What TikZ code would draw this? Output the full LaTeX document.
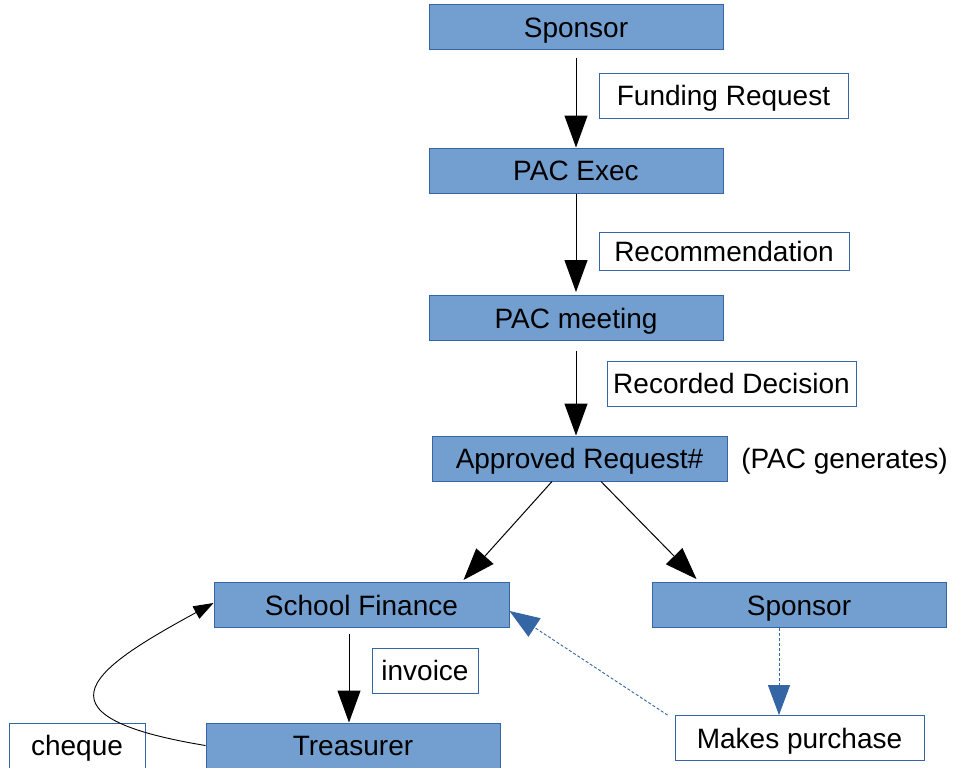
\documentclass[tikz,border=0pt]{standalone}
\usepackage{fontspec}
\setmainfont{Liberation Sans}
\usetikzlibrary{arrows.meta,calc}
\definecolor{boxfill}{HTML}{729FCF}
\definecolor{boxline}{HTML}{3465A4}
\tikzset{
  txt/.style={font=\fontsize{28}{32}\selectfont, text height=26pt, text depth=6pt},
  bluebox/.style={txt, draw=boxline, fill=boxfill, line width=1pt, inner sep=0pt,
    minimum width=294pt, minimum height=45pt},
  labelbox/.style={txt, draw=boxline, fill=white, line width=0.8pt, inner sep=0pt,
    minimum height=45pt},
  plaintext/.style={txt, inner sep=0pt},
  bigarrow/.style={draw=black, line width=1pt, -{Triangle[length=32pt,width=23pt]}},
  curvearrow/.style={draw=black, line width=0.9pt, -{Triangle[length=20pt,width=14pt]}},
  dasharrow/.style={draw=boxline, line width=0.9pt, dash pattern=on 3pt off 2pt,
    -{Triangle[length=30pt,width=22pt]}}
}
\begin{document}
\begin{tikzpicture}[x=1pt,y=-1pt]
\useasboundingbox[fill=white] (0,0) rectangle (956,768);
% main boxes
\node[bluebox] (sp1) at (576,27.5) {Sponsor};
\node[bluebox] (exec) at (576,170.5) {PAC Exec};
\node[bluebox] (meet) at (576,318) {PAC meeting};
\node[bluebox, minimum width=295pt] (app) at (579.5,458.5) {Approved Request\#};
\node[bluebox, minimum width=295pt] (sf) at (361.5,605) {School Finance};
\node[bluebox] (sp2) at (799,605) {Sponsor};
\node[bluebox] (tr) at (353,745.5) {Treasurer};
% label boxes
\node[labelbox, minimum width=249pt] (fr) at (723.5,95.5) {Funding Request};
\node[labelbox, minimum width=250pt, minimum height=38pt] (rec) at (724,251) {Recommendation};
\node[labelbox, minimum width=249pt] (rd) at (731.5,383.5) {Recorded Decision};
\node[labelbox, minimum width=106pt] (inv) at (425,670.5) {invoice};
\node[labelbox, minimum width=136pt] (chq) at (77,745.5) {cheque};
\node[labelbox, minimum width=249pt] (mp) at (799.5,738) {Makes purchase};
\node[plaintext] (gen) at (844.5,458.5) {(PAC generates)};
% helper coordinates
\coordinate (sfa) at ($(sf.south)+(-12.5,0)$);
\coordinate (sp2a) at ($(sp2.south)+(-20,0)$);
% connectors
\draw[bigarrow] ([yshift=-8pt]sp1.south) -- (exec.north);
\draw[bigarrow] (exec.south) -- ([yshift=3pt]meet.north);
\draw[bigarrow] ([yshift=-10pt]meet.south) -- (app.north -| meet.south);
\draw[bigarrow] ([xshift=-27.5pt]app.south) -- ([xshift=-46pt,yshift=2pt]sf.north east);
\draw[bigarrow] ([xshift=21.5pt]app.south) -- ([xshift=45pt,yshift=3pt]sp2.north west);
\draw[bigarrow] ([yshift=-6pt]sfa) -- (sfa |- tr.north);
\draw[dasharrow] (sp2a) -- (sp2a |- mp.north);
\draw[dasharrow] ([xshift=-7pt]mp.north west) -- ([yshift=-6pt]sf.east);
\draw[curvearrow] (tr.west) .. controls (20,715) and (100,665) .. ([yshift=2pt]sf.west);
\end{tikzpicture}
\end{document}
